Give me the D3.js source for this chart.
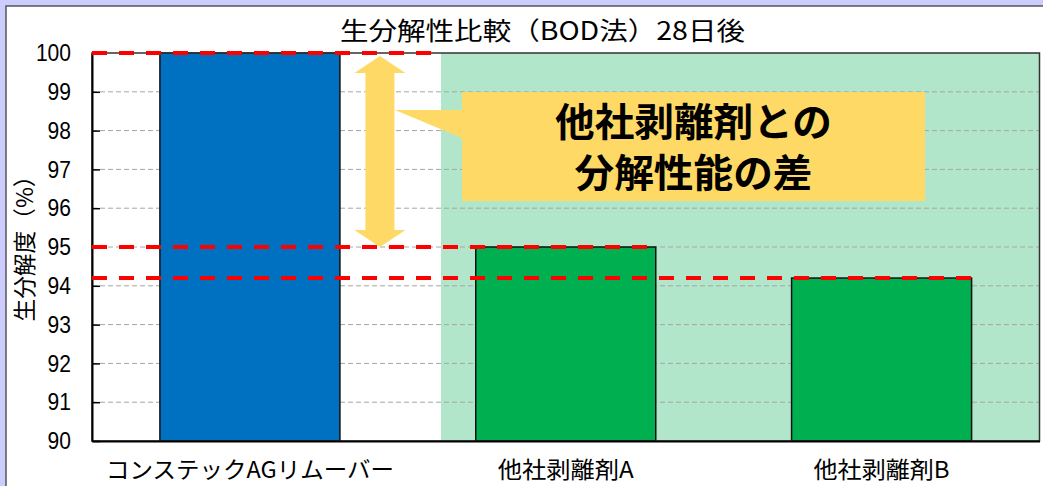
<!DOCTYPE html>
<html><head><meta charset="utf-8">
<script src="https://cdn.jsdelivr.net/npm/d3@7"></script>
<style>html,body{margin:0;padding:0;background:#ccccff;overflow:hidden}svg{display:block}</style>
</head><body>
<svg id="c" width="1043" height="486"></svg>
<script>
const categories = ["コンステックAGリムーバー", "他社剥離剤A", "他社剥離剤B"];
const values = [100, 95.0, 94.2];
const barColors = ["#0070c0", "#00b050", "#00b050"];
const yTicks = [90, 91, 92, 93, 94, 95, 96, 97, 98, 99, 100];
const title = "生分解性比較（BOD法）28日後";
const yTitle = "生分解度（%）";
const refLevels = [100, 95.0, 94.2];
const calloutLines = ["他社剥離剤との", "分解性能の差"];

const svg = d3.select("#c");
const W = 1043, H = 486;
const plot = {l: 92, r: 1039.5, t: 53, b: 441};
const jp = "'Noto Sans CJK JP','Noto Sans',sans-serif";

// outer frame
svg.append("rect").attr("x", 0).attr("y", 0).attr("width", W).attr("height", H).attr("fill", "#ccccff");
svg.append("rect").attr("x", 6).attr("y", 6).attr("width", W + 20).attr("height", H + 20)
  .attr("fill", "#ffffff").attr("stroke", "#555555").attr("stroke-width", 1.5);

const x = d3.scaleBand().domain(categories).range([plot.l, plot.r]).paddingInner(0.43).paddingOuter(0.215);
const y = d3.scaleLinear().domain([90, 100]).range([plot.b, plot.t]);
const step = x.step();

// green highlight region behind competitor bars
const gx0 = x(categories[1]) - 0.11 * step;
svg.append("rect").attr("x", gx0).attr("y", y(100)).attr("width", plot.r - gx0).attr("height", y(90) - y(100))
  .attr("fill", "#b2e6ca");

// gridlines
svg.append("g").selectAll("line").data(yTicks.filter(v => v > 90 && v < 100)).join("line")
  .attr("x1", plot.l).attr("x2", plot.r).attr("y1", d => y(d)).attr("y2", d => y(d))
  .attr("stroke", "#a6a6a6").attr("stroke-width", 1).attr("stroke-dasharray", "5,3");

// bars
svg.append("g").selectAll("rect").data(categories).join("rect")
  .attr("x", d => x(d)).attr("width", x.bandwidth())
  .attr("y", (d, i) => y(values[i])).attr("height", (d, i) => y(90) - y(values[i]))
  .attr("fill", (d, i) => barColors[i]).attr("stroke", "#111").attr("stroke-width", 1.5);

// plot border
svg.append("rect").attr("x", plot.l).attr("y", plot.t).attr("width", plot.r - plot.l).attr("height", plot.b - plot.t)
  .attr("fill", "none").attr("stroke", "#333").attr("stroke-width", 1.5);

// y axis
const ya = d3.axisLeft(y).tickValues(yTicks).tickSizeInner(-8).tickSizeOuter(0).tickPadding(21).tickFormat(d3.format("d"));
const yg = svg.append("g").attr("transform", `translate(${plot.l},0)`).call(ya);
yg.select(".domain").attr("stroke", "#000").attr("stroke-width", 2);
yg.selectAll(".tick line").attr("stroke", "#000").attr("stroke-width", 1.5);
yg.selectAll(".tick text").attr("font-family", "'Liberation Sans Narrow','Liberation Sans',sans-serif")
  .attr("font-size", 24).attr("fill", "#000")
  .attr("textLength", d => String(d).length * 11.7).attr("lengthAdjust", "spacingAndGlyphs");

// x axis
const xa = d3.axisBottom(x).tickSize(0).tickPadding(20);
const xg = svg.append("g").attr("transform", `translate(0,${plot.b})`).call(xa);
xg.select(".domain").attr("stroke", "#000").attr("stroke-width", 2);
const xlw = [288, 136, 136];
xg.selectAll(".tick text").attr("font-family", jp).attr("font-size", 23).attr("fill", "#000")
  .attr("dy", "0.32em").attr("y", 30)
  .attr("textLength", (d, i) => xlw[i]).attr("lengthAdjust", "spacingAndGlyphs");

// red reference dashed lines
const blueRight = x(categories[0]) + x.bandwidth();
const arrowX = blueRight + 40;
const refEnds = [arrowX + 53, x(categories[1]) + x.bandwidth(), x(categories[2]) + x.bandwidth()];
svg.append("g").selectAll("line").data(refLevels).join("line")
  .attr("x1", plot.l).attr("x2", (d, i) => refEnds[i]).attr("y1", d => y(d)).attr("y2", d => y(d))
  .attr("stroke", "#ff0000").attr("stroke-width", 4).attr("stroke-dasharray", "15,12");

// double arrow
const aTop = y(100) + 3, aBot = y(95), hh = 17, hw = 25.5, sw = 14.5;
svg.append("path").attr("fill", "#ffd966").attr("d",
  `M${arrowX},${aTop} L${arrowX + hw},${aTop + hh} L${arrowX + sw},${aTop + hh} L${arrowX + sw},${aBot - hh}
   L${arrowX + hw},${aBot - hh} L${arrowX},${aBot} L${arrowX - hw},${aBot - hh} L${arrowX - sw},${aBot - hh}
   L${arrowX - sw},${aTop + hh} L${arrowX - hw},${aTop + hh} Z`);

// callout
const bx0 = 462, bx1 = 925, by0 = 92, by1 = 201;
svg.append("path").attr("fill", "#ffd966").attr("d",
  `M${bx0},${by0} L${bx1},${by0} L${bx1},${by1} L${bx0},${by1} L${bx0},138 L${arrowX + 15},110 L${bx0},110 Z`);
const cx = (bx0 + bx1) / 2;
const cw = [277, 238];
svg.append("g").selectAll("text").data(calloutLines).join("text")
  .attr("x", cx).attr("y", (d, i) => 122 + i * 51).attr("dy", "0.36em")
  .attr("text-anchor", "middle").attr("font-family", jp).attr("font-weight", "bold").attr("font-size", 39)
  .attr("fill", "#000").attr("textLength", (d, i) => cw[i]).attr("lengthAdjust", "spacingAndGlyphs")
  .text(d => d);

// title
svg.append("text").attr("x", 542.5).attr("y", 31).attr("dy", "0.36em").attr("text-anchor", "middle")
  .attr("font-family", jp).attr("font-size", 25).attr("fill", "#000")
  .attr("textLength", 405).attr("lengthAdjust", "spacingAndGlyphs").text(title);

// y title
svg.append("text").attr("transform", "translate(25,243) rotate(-90)").attr("dy", "0.36em")
  .attr("text-anchor", "middle").attr("font-family", jp).attr("font-size", 23).attr("fill", "#000")
  .attr("textLength", 157).attr("lengthAdjust", "spacingAndGlyphs").text(yTitle);
</script>
</body></html>
